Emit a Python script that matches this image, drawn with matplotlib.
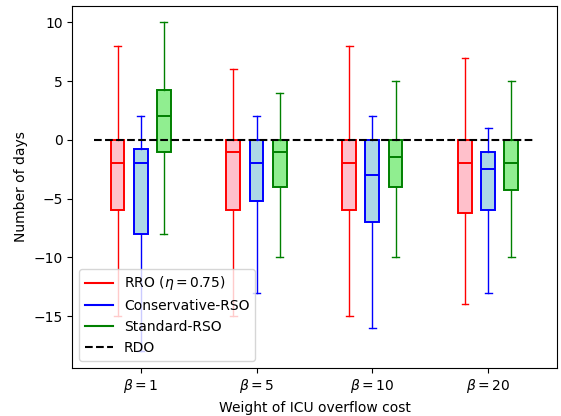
import matplotlib
matplotlib.use("Agg")
import matplotlib.pyplot as plt
from matplotlib.lines import Line2D

# ===============================================================================
#       DATA
# ===============================================================================
BETA_LABELS = [r"$\beta=1$", r"$\beta=5$", r"$\beta=10$", r"$\beta=20$"]

# each: [whislo, q1, med, q3, whishi]
RRO_STATS = [
    [-15, -6, -2, 0, 8],
    [-15, -6, -1, 0, 6],
    [-15, -6, -2, 0, 8],
    [-14, -6.25, -2, 0, 7],
]
CONS_STATS = [
    [-18, -8, -2, -0.75, 2],
    [-13, -5.25, -2, 0, 2],
    [-16, -7, -3, 0, 2],
    [-13, -6, -2.5, -1, 1],
]
STD_STATS = [
    [-8, -1, 2, 4.25, 10],
    [-10, -4, -1, 0, 4],
    [-10, -4, -1.5, 0, 5],
    [-10, -4.25, -2, 0, 5],
]

SERIES = [
    ("RRO ($\\eta=0.75$)", RRO_STATS, "red", "pink"),
    ("Conservative-RSO", CONS_STATS, "blue", "lightblue"),
    ("Standard-RSO", STD_STATS, "green", "lightgreen"),
]

RDO_VALUE = 0.0

# ===============================================================================
#       PLOT
# ===============================================================================
OFFSETS = [-0.2, 0.0, 0.2]
BOX_WIDTH = 0.12

fig, ax = plt.subplots(figsize=(5.61, 4.16), dpi=100)

handles = []
for (name, stats, edge, face), off in zip(SERIES, OFFSETS):
    bxp_stats = []
    for s in stats:
        bxp_stats.append({"whislo": s[0], "q1": s[1], "med": s[2],
                          "q3": s[3], "whishi": s[4], "fliers": []})
    pos = [i + 1 + off for i in range(len(stats))]
    ax.bxp(bxp_stats, positions=pos, widths=BOX_WIDTH, patch_artist=True,
           showfliers=False, manage_ticks=False,
           boxprops=dict(facecolor=face, edgecolor=edge, linewidth=1.4),
           medianprops=dict(color=edge, linewidth=1.4),
           whiskerprops=dict(color=edge),
           capprops=dict(color=edge))
    handles.append(Line2D([], [], color=edge, label=name))

n = len(BETA_LABELS)
ax.plot([0.6, n + 0.4], [RDO_VALUE, RDO_VALUE], "k--")
handles.append(Line2D([], [], color="black", linestyle="--", label="RDO"))

ax.set_xticks(range(1, n + 1))
ax.set_xticklabels(BETA_LABELS)
ax.set_xlabel("Weight of ICU overflow cost")
ax.set_ylabel("Number of days")
ax.legend(handles=handles, loc="lower left")

plt.subplots_adjust(left=0.129, right=0.992, top=0.986, bottom=0.116)
plt.savefig("out.png")
